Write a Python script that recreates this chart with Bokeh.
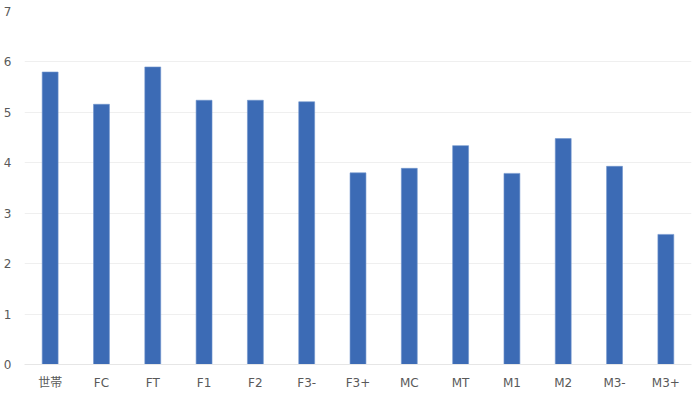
from bokeh.plotting import figure
from bokeh.models import ColumnDataSource, Range1d, FactorRange, FixedTicker
from bokeh.embed import file_html
from bokeh.resources import INLINE

categories = ["世帯", "FC", "FT", "F1", "F2", "F3-", "F3+", "MC", "MT", "M1", "M2", "M3-", "M3+"]
values = [5.80, 5.16, 5.90, 5.24, 5.24, 5.21, 3.80, 3.89, 4.34, 3.79, 4.48, 3.93, 2.58]
y_ticks = [0, 1, 2, 3, 4, 5, 6, 7]

source = ColumnDataSource(data=dict(cat=categories, val=values))

p = figure(x_range=FactorRange(*categories, range_padding=0), y_range=Range1d(0, 7),
           frame_width=667, frame_height=353, output_backend="svg", toolbar_location=None,
           min_border_left=0, min_border_right=1, min_border_top=11, min_border_bottom=0)
p.outline_line_color = None
p.background_fill_color = "white"
p.border_fill_color = "white"

p.vbar(x="cat", top="val", width=0.31, source=source, fill_color="#3C6BB5",
       line_color="#6F93CC", line_width=0.6)

font = "DejaVu Sans, Noto Sans CJK JP"
p.yaxis.ticker = FixedTicker(ticks=y_ticks)
p.yaxis.axis_line_color = None
p.yaxis.major_tick_line_color = None
p.yaxis.minor_tick_line_color = None
p.yaxis.major_label_standoff = 7
p.yaxis.major_label_text_font = font
p.yaxis.major_label_text_font_size = "12px"
p.yaxis.major_label_text_color = "#595959"

p.xaxis.axis_line_color = "#E6E6E6"
p.xaxis.axis_line_width = 1
p.xaxis.major_tick_line_color = None
p.xaxis.minor_tick_line_color = None
p.xaxis.major_label_standoff = 5
p.xaxis.major_label_text_font = font
p.xaxis.major_label_text_font_size = "12px"
p.xaxis.major_label_text_color = "#595959"

p.xgrid.grid_line_color = None
p.ygrid.grid_line_color = "#EFEFEF"
p.ygrid.grid_line_width = 1

open("out.html", "w").write(file_html(p, INLINE))
